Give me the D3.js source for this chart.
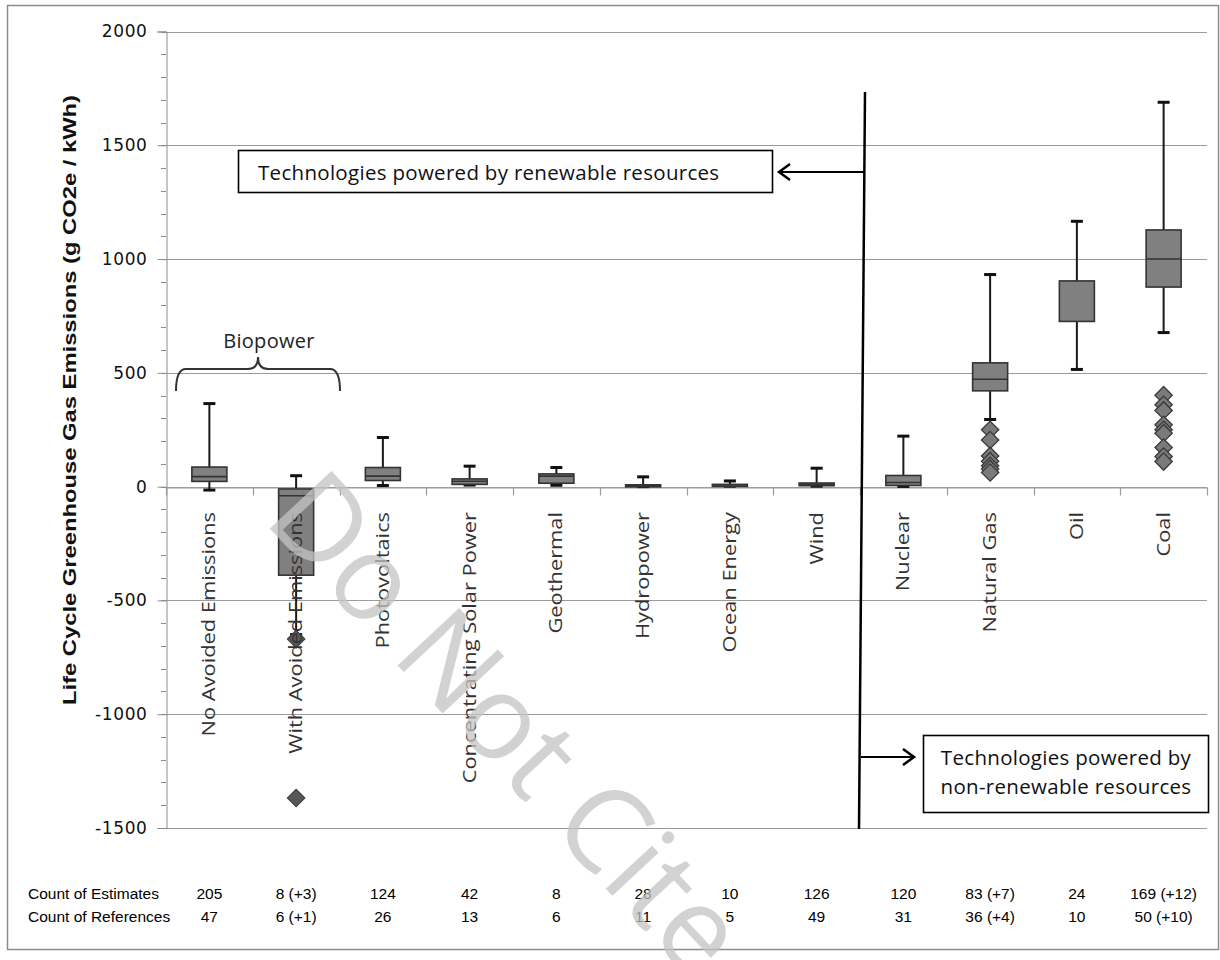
<!DOCTYPE html>
<html><head><meta charset="utf-8">
<script src="https://cdn.jsdelivr.net/npm/d3@7"></script>
<style>body{margin:0;background:#fff}</style>
</head><body>
<svg id="c" width="1220" height="960"></svg>
<script>
const categories = ["No Avoided Emissions","With Avoided Emissions","Photovoltaics","Concentrating Solar Power","Geothermal","Hydropower","Ocean Energy","Wind","Nuclear","Natural Gas","Oil","Coal"];
const minValues    = [-15, -650,   5,  7,   6,  0,  2,  2,   1,  295,  515,  677];
const q1Values     = [ 23, -389,  27, 10,  15,  3,  4,  4,   5,  421,  726,  877];
const medianValues = [ 44,  -40,  46, 24,  46,  4,  8, 10,  18,  472, null, 1000];
const q3Values     = [ 86,  -10,  84, 34,  56,  8, 10, 16,  49,  544,  904, 1128];
const maxValues    = [365,   48, 216, 90,  84, 43, 25, 81, 222,  932, 1166, 1689];
const outlierValues = [[], [-670, -1368], [], [], [], [], [], [], [],
  [250, 205, 135, 112, 92, 78, 62], [], [402, 360, 335, 272, 250, 235, 172, 132, 110]];
const estimateCounts  = ["205","8 (+3)","124","42","8","28","10","126","120","83 (+7)","24","169 (+12)"];
const referenceCounts = ["47","6 (+1)","26","13","6","11","5","49","31","36 (+4)","10","50 (+10)"];
const yTicks = [2000,1500,1000,500,0,-500,-1000,-1500];
const yMinorTicks = d3.range(-1500, 2001, 100);

const svg = d3.select("#c");
const x = d3.scaleBand().domain(categories).range([166, 1207]).padding(0);
const y = d3.scaleLinear().domain([-1500, 2000]).range([828, 31.5]);
const bw = 35, capW = 12;
const sans = "Open Sans, sans-serif";

// outer border
svg.append("rect").attr("x",7.5).attr("y",5.5).attr("width",1211).attr("height",944)
  .attr("fill","none").attr("stroke","#8c8c8c").attr("stroke-width",1.5);

// gridlines
svg.append("g").selectAll("line").data(yTicks).join("line")
  .attr("x1",166).attr("x2",1207).attr("y1",d=>Math.round(y(d))+0.5).attr("y2",d=>Math.round(y(d))+0.5)
  .attr("stroke","#9b9b9b").attr("stroke-width",1.2);

// minor ticks
svg.append("g").selectAll("line").data(yMinorTicks).join("line")
  .attr("x1",161).attr("x2",166).attr("y1",d=>Math.round(y(d))+0.5).attr("y2",d=>Math.round(y(d))+0.5)
  .attr("stroke","#8c8c8c");

// y axis
const yAxis = svg.append("g").attr("transform","translate(166.5,0)")
  .call(d3.axisLeft(y).tickValues(yTicks).tickSize(9).tickPadding(10).tickFormat(d=>String(d)));
yAxis.select(".domain").attr("stroke","#8c8c8c");
yAxis.selectAll(".tick line").attr("stroke","#8c8c8c");
yAxis.selectAll(".tick text").attr("font-family","DejaVu Sans, Verdana, sans-serif").attr("font-size",17)
  .attr("fill","#111").attr("letter-spacing","0.6px");

// y title
svg.append("text").attr("transform","translate(76,400) rotate(-90)").attr("text-anchor","middle")
  .attr("font-family","Liberation Sans Narrow, Arial Narrow, Liberation Sans, sans-serif").attr("font-weight","bold")
  .attr("font-size",18).attr("fill","#111").attr("textLength",610).attr("lengthAdjust","spacingAndGlyphs")
  .text("Life Cycle Greenhouse Gas Emissions (g CO2e / kWh)");

// category axis at zero
const y0 = Math.round(y(0))+0.5;
const xAxis = svg.append("g").attr("transform",`translate(0,${y0})`)
  .call(d3.axisBottom(x).tickSize(0).tickFormat(""));
xAxis.select(".domain").attr("stroke","#9b9b9b").attr("stroke-width",1.2);
const bounds = categories.map(c=>x(c)).concat([x(categories[categories.length-1])+x.bandwidth()]);
svg.append("g").selectAll("line").data(bounds).join("line")
  .attr("x1",d=>Math.round(d)+0.5).attr("x2",d=>Math.round(d)+0.5).attr("y1",y0).attr("y2",y0+8)
  .attr("stroke","#9b9b9b").attr("stroke-width",1.2);

// boxes
const cx = i => x(categories[i]) + x.bandwidth()/2;
const g = svg.append("g");
categories.forEach((c,i)=>{
  const xc = cx(i);
  g.append("line").attr("x1",xc).attr("x2",xc).attr("y1",y(maxValues[i])).attr("y2",y(minValues[i]))
    .attr("stroke","#1a1a1a").attr("stroke-width",2);
  [maxValues[i],minValues[i]].forEach(v=>{
    g.append("line").attr("x1",xc-capW/2).attr("x2",xc+capW/2).attr("y1",y(v)).attr("y2",y(v))
      .attr("stroke","#111").attr("stroke-width",3);
  });
  g.append("rect").attr("x",xc-bw/2).attr("width",bw).attr("y",y(q3Values[i]))
    .attr("height",Math.max(2,y(q1Values[i])-y(q3Values[i])))
    .attr("fill","#808080").attr("stroke","#333").attr("stroke-width",1.6);
  if (medianValues[i]!==null) {
    g.append("line").attr("x1",xc-bw/2).attr("x2",xc+bw/2).attr("y1",y(medianValues[i])).attr("y2",y(medianValues[i]))
      .attr("stroke","#333").attr("stroke-width",1.6);
  }
  outlierValues[i].forEach(v=>{
    g.append("path").attr("d",d3.symbol(d3.symbolSquare).size(150)())
      .attr("transform",`translate(${xc},${y(v)}) rotate(45)`)
      .attr("fill", i<2 ? "#585858" : "#7a7a7a").attr("stroke", i<2 ? "#444" : "#3a3a3a").attr("stroke-width",1.3);
  });
});

// category labels (drawn over boxes)
svg.append("g").selectAll("text").data(categories).join("text")
  .attr("transform",(d,i)=>`translate(${cx(i)+6},512) rotate(-90) scale(1.15,1)`)
  .attr("text-anchor","end").attr("font-family",sans).attr("font-size",19)
  .attr("fill","#333").text(d=>d);

// Biopower brace
svg.append("path").attr("d","M176,391 Q176,369 186,369 L248,369 Q258,369 258,357 Q258,369 268,369 L330,369 Q340,369 340,391")
  .attr("fill","none").attr("stroke","#333").attr("stroke-width",2);
svg.append("text").attr("x",269).attr("y",348).attr("text-anchor","middle")
  .attr("font-family",sans).attr("font-size",20).attr("letter-spacing","0.3px").attr("fill","#222").text("Biopower");

// separator and arrows
svg.append("line").attr("x1",865).attr("y1",92).attr("x2",859).attr("y2",829).attr("stroke","#000").attr("stroke-width",2.5);
svg.append("line").attr("x1",864).attr("x2",779).attr("y1",172).attr("y2",172).attr("stroke","#000").attr("stroke-width",2);
svg.append("path").attr("d","M790,164 L779,172 L790,180").attr("fill","none").attr("stroke","#000").attr("stroke-width",2.5);
svg.append("line").attr("x1",861).attr("x2",914).attr("y1",757).attr("y2",757).attr("stroke","#000").attr("stroke-width",2);
svg.append("path").attr("d","M903,749 L914,757 L903,765").attr("fill","none").attr("stroke","#000").attr("stroke-width",2.5);

// annotation boxes
svg.append("rect").attr("x",238.5).attr("y",150.5).attr("width",534).attr("height",42)
  .attr("fill","#fff").attr("stroke","#000").attr("stroke-width",1.6);
svg.append("text").attr("x",258).attr("y",180).attr("font-family",sans).attr("font-size",20.5)
  .attr("letter-spacing","0.3px").attr("fill","#111").text("Technologies powered by renewable resources");
svg.append("rect").attr("x",923.5).attr("y",735.5).attr("width",285).attr("height",77)
  .attr("fill","#fff").attr("stroke","#000").attr("stroke-width",1.6);
svg.append("text").attr("x",1066).attr("y",765).attr("text-anchor","middle").attr("font-family",sans)
  .attr("font-size",20.5).attr("letter-spacing","0.3px").attr("fill","#111").text("Technologies powered by");
svg.append("text").attr("x",1066).attr("y",794).attr("text-anchor","middle").attr("font-family",sans)
  .attr("font-size",20.5).attr("letter-spacing","0.3px").attr("fill","#111").text("non-renewable resources");

// count rows
const cf = "Liberation Sans Narrow, Arial Narrow, Liberation Sans, sans-serif";
svg.append("text").attr("x",28).attr("y",899).attr("font-family",cf).attr("font-size",15.5).attr("fill","#000").text("Count of Estimates");
svg.append("text").attr("x",28).attr("y",922).attr("font-family",cf).attr("font-size",15.5).attr("fill","#000").text("Count of References");
svg.append("g").selectAll("text").data(estimateCounts).join("text")
  .attr("x",(d,i)=>cx(i)).attr("y",899).attr("text-anchor","middle").attr("font-family",cf).attr("font-size",15.5).text(d=>d);
svg.append("g").selectAll("text").data(referenceCounts).join("text")
  .attr("x",(d,i)=>cx(i)).attr("y",922).attr("text-anchor","middle").attr("font-family",cf).attr("font-size",15.5).text(d=>d);

// watermark
svg.append("text").attr("transform","translate(262,520) rotate(47)")
  .attr("font-family",sans).attr("font-size",118).attr("fill","#c4c4c4").attr("opacity",0.75)
  .text("Do Not Cite or Quote");
</script>
</body></html>
